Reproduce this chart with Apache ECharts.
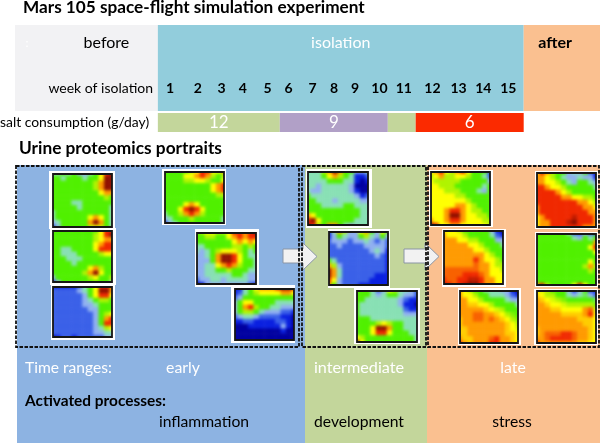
<!DOCTYPE html>
<html><head><meta charset="utf-8">
<style>html,body{margin:0;padding:0;background:#fff}
#wrap{position:relative;width:600px;height:443px;overflow:hidden}
#base,#heat,#top{position:absolute;left:0;top:0;width:600px;height:443px}
#heat{filter:blur(1.8px)}</style>
<script src="https://cdn.jsdelivr.net/npm/echarts@6/dist/echarts.min.js"></script>
</head><body><div id="wrap"><div id="base"></div><div id="heat"></div><div id="top"></div></div>
<script>
// ---- DATA ----
const phaseNames = ['before', 'isolation', 'after'];
const phaseStartDay = [-41, 0, 105];
const phaseEndDay = [0, 105, 127];
const weekLabels = ['1','2','3','4','5','6','7','8','9','10','11','12','13','14','15'];
const weekDays = [3.5,11.5,18.3,24.4,31.5,37.5,44.4,50.6,56.6,63.6,70.6,78.8,86.3,93.4,100.6];
const saltLabels = ['12', '9', '', '6'];
const saltStartDay = [0, 35, 66, 74];
const saltEndDay = [35, 66, 74, 105];
const rangeNames = ['early', 'intermediate', 'late'];
const processNames = ['inflammation', 'development', 'stress'];

const portrait1 = [[4,4,5,4,5,3,3,4,5,7,9,10],[5,5,4,5,5,5,4,5,5,7,10,10],[5,5,5,5,5,5,5,5,6,8,10,10],[5,5,5,5,5,5,5,5,6,8,10,10],[5,5,5,5,5,5,5,5,5,7,8,8],[5,5,5,5,5,5,5,5,5,5,6,5],[5,5,5,5,4,4,5,5,5,5,5,5],[5,5,5,5,5,4,5,5,5,5,5,4],[4,5,5,5,5,5,5,5,5,5,5,4],[4,5,5,5,5,5,5,7,8,7,5,4],[3,4,5,5,5,5,5,8,10,8,5,4],[1,3,5,5,5,5,5,6,7,6,5,4]];
const portrait2 = [[5,5,5,5,5,6,7,9,9,7,7,8],[5,5,5,5,7,7,8,9,8,6,5,6],[5,5,5,5,6,6,7,7,6,5,5,7],[5,5,5,5,5,5,5,5,5,7,8,9],[5,5,5,5,5,5,5,5,5,7,8,9],[5,5,5,5,5,5,5,5,5,5,6,6],[5,5,5,5,5,5,5,5,5,5,5,5],[5,5,5,5,7,8,7,5,5,5,5,5],[5,5,5,7,9,10,9,7,5,5,5,5],[4,5,5,6,8,9,8,6,5,5,5,5],[3,4,5,5,5,6,5,5,5,5,5,4],[1,3,4,5,5,5,5,5,5,5,5,4]];
const portrait3 = [[5,5,5,5,5,5,5,5,5,7,9,9],[5,5,5,5,5,5,5,5,6,7,9,10],[5,5,5,5,5,5,5,5,6,7,8,8],[5,5,5,5,5,5,5,5,7,8,9,9],[5,5,4,4,5,5,5,5,7,9,9,9],[5,5,4,4,4,5,5,5,5,6,7,7],[5,5,5,4,4,4,5,5,5,5,5,5],[5,5,5,5,4,5,5,5,5,5,5,5],[5,5,5,5,5,5,5,7,8,6,5,5],[5,5,5,5,5,5,6,8,10,7,5,5],[3,5,5,5,5,5,5,6,7,5,5,6],[1,3,5,5,5,5,5,5,5,5,5,4]];
const portrait4 = [[5,6,7,7,6,6,7,9,9,8,9,10],[5,5,6,6,5,5,7,8,9,8,9,9],[5,5,5,5,5,5,5,7,8,7,8,7],[4,4,5,5,5,5,5,6,6,5,6,5],[4,3,4,5,6,7,7,7,6,5,4,5],[3,3,4,5,8,10,10,9,7,5,4,4],[3,3,3,5,8,10,10,9,7,5,5,4],[3,3,4,4,7,8,9,8,6,5,5,4],[3,3,4,4,5,5,6,5,5,5,4,4],[3,3,4,4,4,4,4,5,5,4,3,3],[2,3,3,4,4,3,4,4,4,4,3,3],[0,1,3,3,3,3,3,3,3,3,2,1]];
const portrait5 = [[1,1,1,1,1,2,4,5,7,9,9,8],[2,2,2,2,2,3,4,5,7,10,10,8],[2,2,2,2,2,2,3,5,7,9,9,7],[2,2,2,2,2,2,3,4,5,6,6,5],[2,2,2,2,2,2,3,3,4,5,5,5],[2,2,2,2,2,2,2,3,3,5,5,5],[2,2,2,2,2,2,2,2,3,5,6,7],[2,2,2,2,2,2,2,2,3,5,8,9],[2,2,2,2,2,2,2,2,3,5,9,9],[2,2,2,2,2,2,2,2,3,4,6,7],[2,2,2,2,2,2,2,2,3,3,4,4],[0,1,2,2,1,2,2,2,2,2,3,3]];
const portrait6 = [[1,1,4,5,7,8,8,8,9,10,10,9],[1,2,4,5,6,7,7,7,7,8,8,7],[2,3,5,5,5,5,5,5,5,5,5,5],[3,5,7,7,5,5,5,5,4,4,4,4],[3,5,8,9,6,5,5,4,4,3,3,3],[3,5,6,6,5,4,3,3,3,2,2,1],[2,3,4,4,3,2,2,2,2,1,1,0],[1,1,2,2,1,1,1,1,2,2,1,0],[0,0,0,1,1,1,1,1,1,3,1,0],[0,0,0,0,0,0,0,0,0,1,0,0],[0,0,0,0,0,0,0,0,0,0,0,0],[0,0,0,0,0,0,0,0,0,0,0,0]];
const portrait7 = [[4,4,4,6,8,10,8,5,5,3,3,4],[4,4,4,5,7,8,6,5,4,1,1,2],[4,4,4,4,5,5,5,4,4,1,0,1],[4,4,3,4,4,4,4,4,3,0,0,0],[4,3,3,4,4,4,4,4,3,1,0,0],[5,4,4,4,4,4,4,4,4,3,1,2],[5,5,4,4,4,3,4,4,4,4,3,3],[5,5,5,4,4,4,4,5,5,4,4,4],[5,5,5,5,5,5,5,5,5,5,4,4],[8,7,5,5,5,5,5,5,5,5,4,4],[9,10,7,5,5,5,5,5,5,4,4,4],[10,9,6,5,8,8,5,4,3,4,4,4]];
const portrait8 = [[1,4,8,6,3,3,7,8,5,3,7,5],[1,3,5,4,3,3,5,6,4,3,5,3],[2,3,3,3,2,3,3,4,3,2,3,2],[2,2,3,2,2,2,2,3,3,3,3,2],[2,2,2,2,2,2,2,2,3,4,3,1],[2,2,2,2,2,2,2,2,2,3,2,1],[5,4,2,2,2,2,2,2,2,2,2,1],[8,6,3,2,2,2,2,2,2,2,2,1],[10,8,4,2,2,2,2,2,2,2,2,1],[10,8,4,2,2,2,2,2,2,1,1,1],[9,7,3,2,2,2,2,2,1,1,1,1],[8,5,3,2,2,2,1,1,1,1,1,1]];
const portrait9 = [[5,5,5,4,2,3,7,6,4,4,3,2],[5,5,5,4,3,4,5,5,4,3,3,2],[5,5,4,4,4,4,4,4,3,2,1,1],[5,4,4,4,4,4,4,4,3,1,1,0],[5,4,4,4,4,4,4,4,4,2,1,1],[5,4,4,4,4,4,4,4,4,3,3,3],[5,5,5,4,4,4,4,4,4,4,4,4],[5,5,5,5,6,7,6,5,5,4,4,4],[5,5,5,7,10,10,8,5,5,4,4,4],[5,5,5,7,9,9,7,5,5,5,4,4],[7,6,5,5,5,5,5,5,5,5,5,4],[10,7,5,5,5,5,5,5,5,5,5,4]];
const portrait10 = [[7,8,9,7,6,8,9,7,5,5,5,2],[6,7,8,6,6,7,7,6,5,5,4,2],[7,6,6,6,6,6,5,5,5,5,5,3],[7,7,6,6,6,5,5,5,5,5,4,5],[7,7,7,6,6,6,5,5,5,4,3,5],[7,7,7,7,7,6,6,5,5,5,5,5],[7,7,7,7,7,7,7,6,5,5,5,5],[7,7,7,7,7,8,8,7,6,5,5,5],[7,7,7,8,9,9,8,7,6,6,5,5],[7,7,7,8,10,10,8,7,7,6,6,5],[8,7,7,8,9,9,8,7,7,7,6,6],[10,9,7,7,8,8,7,7,7,7,7,6]];
const portrait11 = [[7,9,8,6,5,5,3,4,3,5,2,1],[8,8,7,6,5,4,3,3,4,3,3,1],[8,8,7,7,6,5,4,3,5,5,4,3],[9,9,8,7,7,6,5,5,5,5,5,4],[9,9,9,9,8,7,6,5,5,5,5,5],[9,9,9,9,9,8,8,7,7,6,6,5],[9,9,9,9,9,9,9,9,8,8,7,6],[8,9,9,9,9,9,9,9,9,8,8,7],[8,9,9,9,9,9,9,9,9,9,8,8],[7,8,9,9,9,9,9,9.5,9,9,9,8],[7,8,8,9,9,9,9.5,10,9,9,9,8],[7,8,8,9,9,9,9,9,9,8,8,8]];
const portrait12 = [[7,7,7,6,5,5,5,5,5,3,1,0],[8,7,7,7,6,5,5,5,5,4,2,1],[8,8,8,7,7,6,6,5,5,5,3,3],[8,8,8,8,8,7,7,6,5,5,5,4],[8,8,8,8,8,8,7,7,6,5,5,5],[8,8,8,8,8,8,8,8,7,6,5,5],[8,8,8,8,8,8,9,8,7,7,6,5],[8,8,8,8,8,8,8.5,8,8,7,6,6],[8.5,8.5,8.5,8.5,8.5,8.5,8.5,8,8,7,7,6],[8.5,8.5,8.5,8.5,9,9,9,8.5,8,7,7,7],[9,8.5,8.5,9,9,9.5,9.5,9,8,8,7,7],[9.5,9,8.5,9,9.5,10,10,9,8,8,7,7]];
const portrait13 = [[5,5,5,5,5,5,4,2,2,3,2,2],[5,5,5,5,5,5,5,4,3,5,4,5],[5,5,5,5,5,5,5,5,5,5,5,8],[5,5,5,5,5,5,5,5,5,5,7,9],[5,5,5,5,5,5,5,5,5,5,5,7],[5,5,5,5,5,5,5,5,5,5,5,5],[5,5,5,5,5,5,5,5,5,5,7,5],[5,5,5,5,5,5,5,5,5,6,8,6],[5,5,5,5,5,5,5,5,5,5,6,5],[5,5,5,5,5,5,5,5,5,5,5,5],[5,5,5,5,5,5,5,5,5,5,5,5],[8,9,6,5,5,5,5,7,9,7,5,5]];
const portrait14 = [[8,7,6,5,5,4,4,4,3,3,1,0],[8,7,7,6,5,5,4,4,4,3,2,1],[8,8,7,7,6,5,5,5,5,4,3,3],[8,8,7.5,7.5,7,7,6,5,5,5,5,4],[8,8,8,8,8,7.5,7,6.5,6,5,5,5],[8,8,8,8.5,8.5,8,8,7.5,7,6,5.5,5],[7.5,8,8,8.5,8.5,8,8.5,8,7.5,7,6,5.5],[7.5,8,8,8,8,8,8,8,8,7.5,7,6],[7.5,7.5,8,8,8,8,8,8,8,7.5,7,6.5],[7.5,7.5,8,8,8,8,8,8,8,7.5,7.5,7],[8,7.5,7.5,8,8,8,8.5,9,8,8,7.5,7],[9,8,7.5,8,8,8,9,9,8,8,7.5,7]];
const portrait15 = [[7,6.5,6,5,5,5,3,1.5,3,5,1.5,1],[7.5,7,6,6,5,5,4,3,4,4.5,3,2],[8,7.5,7,6.5,6,5.5,5,5,5,5,5,4.5],[8,8,7.5,7,7,6.5,6,6,6,6,6,5.5],[8,8,8,7.5,7.5,7,7,7,7,8,8.5,6.5],[8,8,8,8,8,7.5,7.5,7.5,7.5,8,9,7],[8,8,8,8,8,8,8,8,7.5,7.5,7.5,7],[8,8,8,8,8,8,8,8,8,7.5,7.5,7],[7.5,8,8,8,8,8,8,8,8,8,7.5,7],[7.5,8,8.5,8.5,8.5,9,9,8.5,8,8,7.5,7],[8,8,8.5,9,9,9,9,8.5,8,8,7.5,7],[9,8,8,8,8,8,8,8,7.5,7.5,7,7]];
const portraits = [portrait1,portrait2,portrait3,portrait4,portrait5,portrait6,portrait7,portrait8,portrait9,portrait10,portrait11,portrait12,portrait13,portrait14,portrait15];

// ---- LAYOUT & STYLE ----
const FONT = 'Lato';
const phaseColors = ['#f2f2f4', '#92cddc', '#fac090'];
const phaseTextColors = ['#000', '#fff', '#000'];
const phaseBold = ['normal', 'normal', 'bold'];
const saltColors = ['#c3d69b', '#b1a0c7', '#c3d69b', '#fb2a00'];
// inner box [x0,y0,x1,y1] and white frame [x0,y0,x1,y1]
const boxes = [
 [[53,174,112,227],[49,171,115,229]],
 [[165,172,224,223],[162,169,226,225]],
 [[53,231,112,282],[50,228,116,285]],
 [[197,233,256,284],[195,229,259,287]],
 [[53,287,112,337],[51,285,115,340]],
 [[235,289,294,340],[231,285,295,343]],
 [[308,172,368,225],[306,169,372,228]],
 [[329,232,388,285],[328,229,390,288]],
 [[357,291,417,342],[354,288,420,344]],
 [[431,172,490,225],[429,170,493,227]],
 [[537,173,596,227],[535,171,598,229]],
 [[444,231,503,284],[442,229,506,287]],
 [[537,234,596,285],[535,232,598,287]],
 [[460,291,518,343],[458,288,521,345]],
 [[537,291,596,343],[534,289,598,345]]
];
const rect = (x, y, w, h, fill) => ({type:'rect', shape:{x,y,width:w,height:h}, style:{fill}, z:0, silent:true});
const txt = (text, x, y, size, color, weight, align) => ({type:'text', x, y, z:10, silent:true,
  style:{text, fill:color, font:`${weight||'normal'} ${size}px ${FONT}`, textAlign:align||'center', textVerticalAlign:'middle'}});
const dash = (x, y, w, h) => ({type:'rect', shape:{x,y,width:w,height:h}, z:9, silent:true,
  style:{fill:'none', stroke:'#111', lineWidth:1.8, lineDash:[3.5,1.5]}});
const arrow = (x0, x1, x2) => ({type:'polygon', z:8, silent:true,
  shape:{points:[[x0,249],[x1,249],[x1,243],[x2,256.5],[x1,270],[x1,263],[x0,263]]},
  style:{fill:'#f2f2f2', stroke:'#8a95a5', lineWidth:1}});

// base layer: panels and white frames
const baseGraphics = [
  rect(17,165,288,278,'#8db3e2'),
  rect(305,165,122,278,'#c3d69b'),
  rect(427,165,173,278,'#fac090')
];
boxes.forEach(b => { const o = b[1]; baseGraphics.push(rect(o[0],o[1],o[2]-o[0],o[3]-o[1],'#fff')); });

// top layer: frames, dashes, arrows, titles
const topGraphics = [
  dash(16,166,283,181), dash(302,166,124,181), dash(428,166,171,181),
  arrow(283,303,317), arrow(404,425,439),
  txt('Mars 105 space-flight simulation experiment',23,7.5,17.2,'#000','bold','left'),
  txt(':',27,43,12,'#fff'),
  txt('week of isolation',153,88,14,'#000','normal','right'),
  txt('salt consumption (g/day)',0,123,13.9,'#000','normal','left'),
  txt('Urine proteomics portraits',19,148,17.3,'#000','bold','left'),
  txt('Time ranges:',25,368,15.6,'#fff','normal','left'),
  txt('Activated processes:',25,401,15.4,'#000','bold','left'),
  txt(rangeNames[0],183,368,15.8,'#fff'), txt(rangeNames[1],359,368,16.2,'#fff'), txt(rangeNames[2],513,368,15.8,'#fff'),
  txt(processNames[0],204,422,15.7,'#000'), txt(processNames[1],359,422,15.7,'#000'), txt(processNames[2],512,422,15.7,'#000')
];
boxes.forEach(b => { const i = b[0];
  topGraphics.push({type:'rect', shape:{x:i[0],y:i[1],width:i[2]-i[0],height:i[3]-i[1]}, z:5, silent:true, style:{fill:'none',stroke:'#161616',lineWidth:1.8}});
});

const dayMin = -41, dayMax = 126.9;
const band = (texts, colors, size, bold, tcolors, textRow) => (params, api) => {
  const a = api.coord([api.value(0), 0]), b = api.coord([api.value(1), 1]);
  const cs = params.coordSys;
  const i = params.dataIndex;
  return {type:'group', children:[
    {type:'rect', shape:{x:a[0],y:cs.y,width:b[0]-a[0],height:cs.height}, style:{fill:colors[i]}},
    {type:'text', x:(a[0]+b[0])/2 + (textRow.dx?textRow.dx[i]:0), y:cs.y+textRow.y, z2:5,
      style:{text:texts[i], fill:tcolors[i], font:`${bold[i]} ${size}px ${FONT}`, textAlign:'center', textVerticalAlign:'middle'}}
  ]};
};
const bandAxisX = [0,1].map(g => ({type:'value', gridIndex:g, min:dayMin, max:dayMax, show:false}));
const bandAxisY = [0,1].map(g => ({type:'value', gridIndex:g, min:0, max:1, inverse:true, show:false}));
const baseChart = echarts.init(document.getElementById('base'), null, {renderer:'canvas'});
baseChart.setOption({
  animation:false, backgroundColor:'#fff', tooltip:{show:false},
  grid:[{left:15, top:25, width:585, height:86},{left:15, top:113, width:585, height:19}],
  xAxis:bandAxisX, yAxis:bandAxisY,
  graphic:{elements:baseGraphics},
  series:[
   {type:'custom', xAxisIndex:0, yAxisIndex:0, silent:true, encode:{x:[0,1]},
    data: phaseNames.map((n,i)=>[phaseStartDay[i],phaseEndDay[i]]),
    renderItem: band(phaseNames, phaseColors, 16, phaseBold, phaseTextColors, {y:18, dx:[20,0,-7]})},
   {type:'custom', xAxisIndex:1, yAxisIndex:1, silent:true, encode:{x:[0,1]},
    data: saltLabels.map((n,i)=>[saltStartDay[i],saltEndDay[i]]),
    renderItem: band(saltLabels, saltColors, 17, ['normal','normal','normal','normal'], ['#fff','#fff','#fff','#fff'], {y:9.5})},
   {type:'custom', xAxisIndex:0, yAxisIndex:0, z:6, silent:true, encode:{x:0,y:1},
    data: weekDays.map(d=>[d,0.733]),
    renderItem:(params,api)=>{
      const p = api.coord([api.value(0),api.value(1)]);
      return {type:'text', x:p[0], y:p[1], style:{text:weekLabels[params.dataIndex], fill:'#000', font:`bold 14px ${FONT}`, textAlign:'center', textVerticalAlign:'middle'}};
    }}
  ]
});

// heat layer: blurred portraits, clipped to their inner boxes
const grids = [], xAxes = [], yAxes = [], series = [];
const cells = Array.from({length:12},(_, i)=>String(i));
const BLEED = 3;
portraits.forEach((m, k) => {
  const i = boxes[k][0];
  grids.push({left:i[0]-BLEED, top:i[1]-BLEED, width:i[2]-i[0]+2*BLEED, height:i[3]-i[1]+2*BLEED});
  xAxes.push({type:'category', gridIndex:k, data:cells, show:false});
  yAxes.push({type:'category', gridIndex:k, data:cells, inverse:true, show:false});
  const data = [];
  m.forEach((row,r)=>row.forEach((v,c)=>data.push([c,r,v])));
  series.push({type:'heatmap', xAxisIndex:k, yAxisIndex:k, silent:true, progressive:0, data});
});
const heatEl = document.getElementById('heat');
const clipPath = boxes.map(b => { const i = b[0]; return `M${i[0]} ${i[1]}H${i[2]}V${i[3]}H${i[0]}Z`; }).join(' ');
heatEl.style.clipPath = `path("${clipPath}")`;
const heatChart = echarts.init(heatEl, null, {renderer:'canvas'});
heatChart.setOption({
  animation:false, tooltip:{show:false},
  grid:grids, xAxis:xAxes, yAxis:yAxes,
  visualMap:{show:false, type:'continuous', min:0, max:10,
    inRange:{color:['#0000a0','#0a20e0','#3a60e8','#90b0f0','#88e0b4','#50f000','#b0f400','#ffff00','#ff9a00','#f02800','#901000']}},
  series
});

const topChart = echarts.init(document.getElementById('top'), null, {renderer:'canvas'});
topChart.setOption({animation:false, graphic:{elements:topGraphics}});
</script></body></html>
